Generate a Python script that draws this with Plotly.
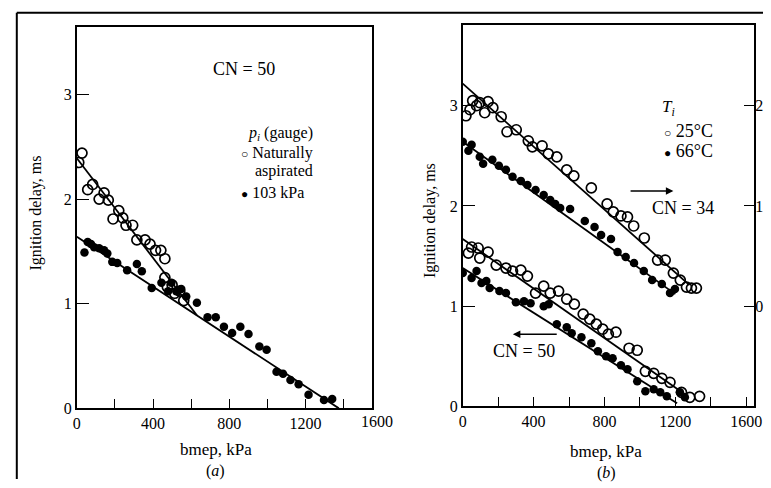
import plotly.graph_objects as go

# ---------------- Panel (a): CN = 50, inlet pressure ----------------
a_na_x = [10, 27, 57, 83, 117, 143, 165, 190, 220, 241, 258, 293, 315, 358, 384, 413, 441, 462, 462, 475, 500, 513, 540, 561]
a_na_y = [2.35, 2.44, 2.09, 2.14, 2.00, 2.06, 1.99, 1.81, 1.89, 1.82, 1.75, 1.75, 1.61, 1.61, 1.57, 1.51, 1.51, 1.43, 1.25, 1.16, 1.18, 1.10, 1.12, 1.03]
a_103_x = [40, 57, 74, 91, 117, 143, 160, 186, 212, 264, 315, 341, 393, 444, 479, 496, 522, 548, 574, 630,
           686, 729, 772, 815, 858, 901, 958, 996, 1048, 1082, 1121, 1164, 1216, 1297, 1340]
a_103_y = [1.49, 1.59, 1.57, 1.54, 1.53, 1.51, 1.48, 1.40, 1.39, 1.32, 1.38, 1.31, 1.15, 1.20, 1.12, 1.20, 1.12, 1.14, 1.07, 1.01,
           0.87, 0.87, 0.78, 0.72, 0.78, 0.71, 0.59, 0.56, 0.35, 0.33, 0.27, 0.23, 0.13, 0.08, 0.09]
a_fit_na_x = [0, 630]
a_fit_na_y = [2.39, 0.89]
a_fit_103_x = [0, 1375]
a_fit_103_y = [1.64, 0.0]

# ---------------- Panel (b): inlet temperature, CN = 34 and CN = 50 ----------------
b34_25_x = [18, 41, 56, 78, 96, 124, 143, 170, 217, 250, 302, 370, 393, 448, 483, 531, 587, 627, 726, 815, 850, 893,
            930, 965, 1025, 1100, 1143, 1189, 1228, 1263, 1291, 1319]
b34_25_y = [2.90, 2.96, 3.05, 3.00, 3.03, 2.93, 3.04, 2.98, 2.89, 2.74, 2.76, 2.65, 2.59, 2.60, 2.52, 2.49, 2.36, 2.30,
            2.18, 2.02, 1.94, 1.90, 1.89, 1.80, 1.68, 1.46, 1.46, 1.33, 1.26, 1.19, 1.18, 1.18]
b34_66_x = [0, 32, 50, 96, 115, 167, 204, 244, 281, 328, 365, 411, 457, 494, 522, 550, 606, 689, 744, 781, 837, 874,
            920, 967, 1022, 1069, 1124, 1170, 1198]
b34_66_y = [2.64, 2.55, 2.61, 2.49, 2.42, 2.46, 2.40, 2.36, 2.29, 2.25, 2.21, 2.16, 2.11, 2.06, 2.02, 1.98, 1.97, 1.85,
            1.79, 1.71, 1.67, 1.54, 1.49, 1.43, 1.35, 1.26, 1.22, 1.13, 1.17]
b50_25_x = [32, 50, 87, 96, 143, 189, 244, 281, 328, 365, 411, 457, 494, 541, 587, 630, 680, 717, 754, 790, 822, 865,
            939, 985, 1031, 1078, 1124, 1170, 1235, 1282, 1337]
b50_25_y = [1.53, 1.59, 1.58, 1.48, 1.54, 1.41, 1.38, 1.35, 1.36, 1.30, 1.13, 1.20, 1.13, 1.15, 1.07, 1.02, 0.92, 0.87,
            0.82, 0.77, 0.72, 0.74, 0.58, 0.56, 0.35, 0.33, 0.28, 0.24, 0.14, 0.09, 0.10]
b50_66_x = [0, 50, 78, 106, 133, 152, 207, 244, 300, 346, 383, 457, 485, 531, 587, 615, 670, 726, 763, 809, 846, 893,
            930, 985, 1031, 1078, 1115, 1152, 1226, 1254]
b50_66_y = [1.33, 1.28, 1.35, 1.23, 1.25, 1.18, 1.15, 1.13, 1.04, 1.05, 1.03, 1.00, 1.02, 0.82, 0.79, 0.73, 0.69, 0.63,
            0.55, 0.50, 0.48, 0.41, 0.37, 0.25, 0.15, 0.17, 0.14, 0.10, 0.14, 0.09]
b34_25_fit_x = [0, 1280]
b34_25_fit_y = [3.22, 1.21]
b34_66_fit_x = [0, 1200]
b34_66_fit_y = [2.64, 1.12]
b50_25_fit_x = [0, 1270]
b50_25_fit_y = [1.67, 0.10]
b50_66_fit_x = [0, 1210]
b50_66_fit_y = [1.38, 0.03]

x_major_ticks = [0, 400, 800, 1200, 1600]
y_ticks = [0, 1, 2, 3]
right_ticks = [0, 1, 2]

FONT = "Liberation Serif, Times New Roman, serif"
W, H = 771, 488


def px(x):
    return x / W


def py(y):
    return 1 - y / H


fig = go.Figure()

open_m = dict(symbol="circle-open", size=10, color="black", line=dict(width=1.7, color="black"))
fill_m = dict(symbol="circle", size=8.5, color="black")
line_s = dict(color="black", width=1.8)

# panel a
fig.add_trace(go.Scatter(x=a_fit_na_x, y=a_fit_na_y, mode="lines", line=line_s, xaxis="x", yaxis="y"))
fig.add_trace(go.Scatter(x=a_fit_103_x, y=a_fit_103_y, mode="lines", line=line_s, xaxis="x", yaxis="y"))
fig.add_trace(go.Scatter(x=a_na_x, y=a_na_y, mode="markers", marker=open_m, xaxis="x", yaxis="y"))
fig.add_trace(go.Scatter(x=a_103_x, y=a_103_y, mode="markers", marker=fill_m, xaxis="x", yaxis="y"))

# panel b
for fx, fy in [(b34_25_fit_x, b34_25_fit_y), (b34_66_fit_x, b34_66_fit_y),
               (b50_25_fit_x, b50_25_fit_y), (b50_66_fit_x, b50_66_fit_y)]:
    fig.add_trace(go.Scatter(x=fx, y=fy, mode="lines", line=line_s, xaxis="x2", yaxis="y2"))
fig.add_trace(go.Scatter(x=b34_25_x, y=b34_25_y, mode="markers", marker=open_m, xaxis="x2", yaxis="y2"))
fig.add_trace(go.Scatter(x=b34_66_x, y=b34_66_y, mode="markers", marker=fill_m, xaxis="x2", yaxis="y2"))
fig.add_trace(go.Scatter(x=b50_25_x, y=b50_25_y, mode="markers", marker=open_m, xaxis="x2", yaxis="y2"))
fig.add_trace(go.Scatter(x=b50_66_x, y=b50_66_y, mode="markers", marker=fill_m, xaxis="x2", yaxis="y2"))
# activates the right-hand axis of panel b
fig.add_trace(go.Scatter(x=[None], y=[None], xaxis="x2", yaxis="y3"))

axis_common = dict(showline=True, linecolor="black", linewidth=1.6, mirror=True, showgrid=False,
                   zeroline=False, ticks="inside", tickcolor="black", tickwidth=1.4,
                   tickfont=dict(family=FONT, size=16, color="black"))
minor_x = dict(tick0=0, dtick=200, ticks="inside", ticklen=10, tickcolor="black", tickwidth=1.4)

a_xmax = 1550
b_xmax = 1645
fig.update_layout(
    width=W, height=H, margin=dict(l=0, r=0, t=0, b=0),
    paper_bgcolor="white", plot_bgcolor="white", showlegend=False,
    xaxis=dict(domain=[px(74), px(374)], range=[0, a_xmax], anchor="y",
               tickmode="array", tickvals=[v for v in x_major_ticks if v <= a_xmax],
               ticklen=10, minor=minor_x, **axis_common),
    yaxis=dict(domain=[py(416), py(27)], range=[0, 3.65], anchor="x",
               tickmode="array", tickvals=y_ticks, ticklen=12, **axis_common),
    xaxis2=dict(domain=[px(466), px(762)], range=[0, b_xmax], anchor="y2",
                tickmode="array", tickvals=x_major_ticks, ticklen=10, minor=minor_x, **axis_common),
    yaxis2=dict(domain=[py(414), py(25)], range=[0, 3.81], anchor="x2",
                tickmode="array", tickvals=y_ticks, ticklen=12, **axis_common),
    yaxis3=dict(overlaying="y2", anchor="x2", side="right", range=[-1, 2.81],
                tickmode="array", tickvals=right_ticks,
                showline=False, showgrid=False, zeroline=False, ticks="inside", ticklen=10,
                tickcolor="black", tickwidth=1.4, tickfont=dict(family=FONT, size=16, color="black")),
)


def txt(x, y, s, size=17, xanchor="center", angle=0):
    fig.add_annotation(x=px(x), y=py(y), xref="paper", yref="paper", text=s, showarrow=False,
                       xanchor=xanchor, yanchor="middle", textangle=angle,
                       font=dict(family=FONT, size=size, color="black"))


small_o = '<span style="font-size:12px">○</span>'
small_dot = '<span style="font-size:12px">●</span>'

# panel a texts
txt(244, 70, "CN = 50", 18)
txt(281, 136, "<i>p<sub>i</sub></i> (gauge)", 16)
txt(239, 156, small_o + " Naturally", 16, "left")
txt(253, 174, "aspirated", 16, "left")
txt(239, 196, small_dot + " 103 kPa", 16, "left")
txt(33, 217, "Ignition delay, ms", 16, angle=-90)
txt(215, 458, "bmep, kPa", 17)
txt(215, 480, "(<i>a</i>)", 16)
txt(379, 429, "1600", 16)

# panel b texts
txt(666, 110, "<i>T<sub>i</sub></i>", 17, "left")
txt(668, 133, small_o + " 25°C", 18, "left")
txt(668, 154, small_dot + " 66°C", 18, "left")
txt(690, 212, "CN = 34", 18)
txt(528, 358, "CN = 50", 18)
txt(433, 225, "Ignition delay, ms", 16, angle=-90)
txt(612, 460, "bmep, kPa", 17)
txt(612, 482, "(<i>b</i>)", 16)

# arrows in panel b
fig.add_annotation(x=1189, y=2.15, ax=939, ay=2.15, xref="x2", yref="y2", axref="x2", ayref="y2",
                   text="", showarrow=True, arrowhead=2, arrowsize=1, arrowwidth=1.5, arrowcolor="black")
fig.add_annotation(x=283, y=0.72, ax=539, ay=0.72, xref="x2", yref="y2", axref="x2", ayref="y2",
                   text="", showarrow=True, arrowhead=2, arrowsize=1, arrowwidth=1.5, arrowcolor="black")

# outer figure frame (top and left edges visible)
fig.add_shape(type="line", xref="paper", yref="paper", x0=px(13), x1=1, y0=py(13), y1=py(13),
              line=dict(color="black", width=2))
fig.add_shape(type="line", xref="paper", yref="paper", x0=px(13), x1=px(13), y0=0, y1=py(13),
              line=dict(color="black", width=2))

# remove the browser's default page margin so the 771x488 figure fills the window exactly
fig.write_html("out.html", config={"displayModeBar": False},
               post_script="document.body.style.margin='0';")
